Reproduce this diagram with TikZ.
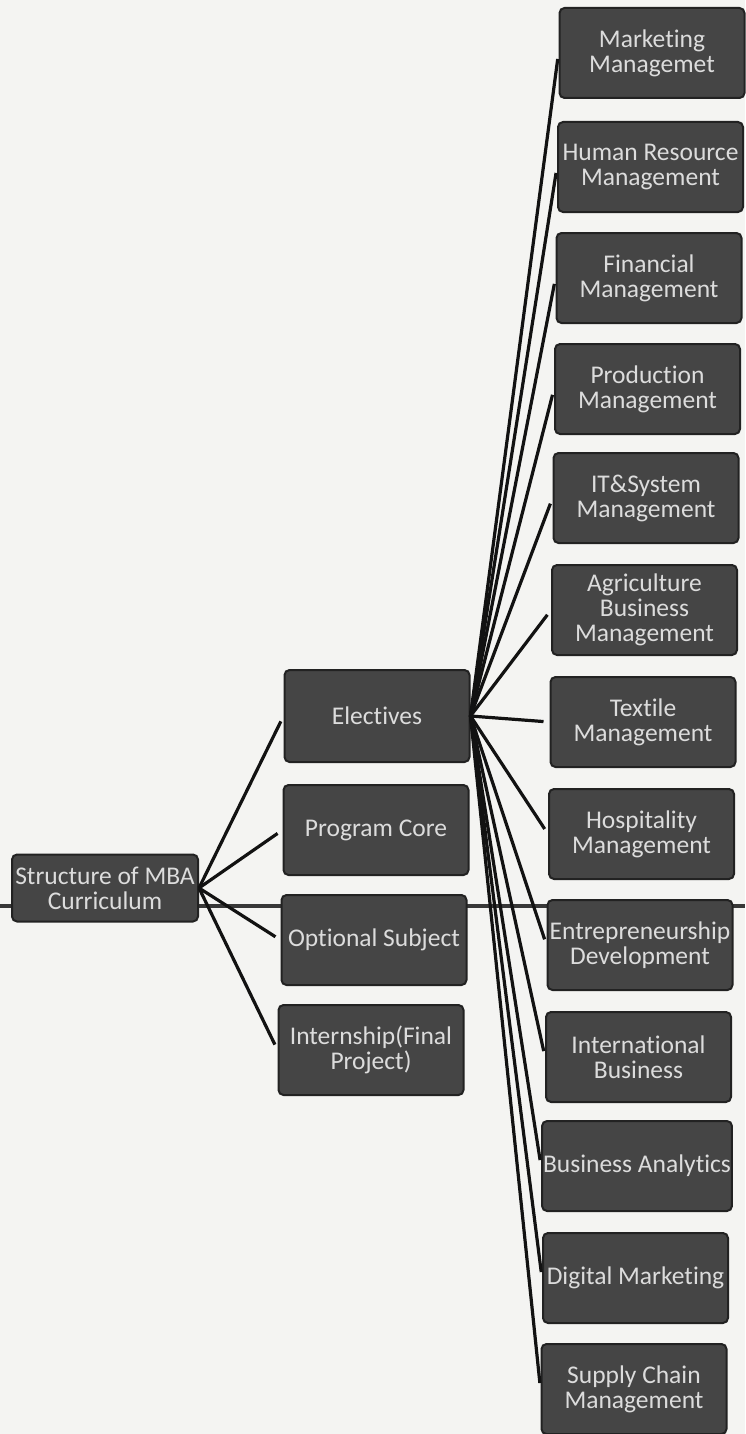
\documentclass[tikz,border=0pt]{standalone}
\usepackage{fontspec}
\setmainfont{Carlito}[Ligatures=NoCommon]
\definecolor{bg}{HTML}{F4F4F2}
\definecolor{boxfill}{HTML}{454545}
\definecolor{boxedge}{HTML}{222222}
\definecolor{boxtext}{HTML}{DCDCDC}
\definecolor{linecol}{HTML}{121212}
\begin{document}
\begin{tikzpicture}[x=1pt,y=-1pt,
  box/.style={draw=boxedge, line width=2pt, fill=boxfill, rounded corners=5pt,
    minimum width=185pt, minimum height=90pt, inner sep=1pt, align=center,
    text=boxtext, font=\fontsize{25.5}{25}\selectfont},
  link/.style={draw=linecol, line width=3.2pt, shorten >=6pt},
  scanline/.style={draw=black!78, line width=3.4pt}]
\fill[bg] (0,0) rectangle (745,1434);
\useasboundingbox (0,0) rectangle (745,1434);
% scan artifact line
\coordinate (sl) at (0,906);
\coordinate (sr) at (745,906);
\draw[scanline] (sl) -- (sr);
% nodes
\node[box, minimum width=186pt, minimum height=67pt] (root) at (105,888) {Structure of MBA\\Curriculum};
\node[box, minimum height=92pt] (el) at (377,716) {Electives};
\node[box] (pc) at (376,830) {Program Core};
\node[box] (os) at (374,940) {Optional Subject};
\node[box] (ip) at (371,1050) {Internship(Final\\Project)};
\node[box] (r1) at (652,53) {Marketing\\Managemet};
\node[box] (r2) at (650.5,167) {Human Resource\\Management};
\node[box] (r3) at (649,278) {Financial\\Management};
\node[box] (r4) at (647.5,389) {Production\\Management};
\node[box] (r5) at (646,498) {IT\&System\\Management};
\node[box] (r6) at (644.5,610) {Agriculture\\Business\\Management};
\node[box] (r7) at (643,722) {Textile\\Management};
\node[box] (r8) at (641.5,834) {Hospitality\\Management};
\node[box] (r9) at (640,945) {Entrepreneurship\\Development};
\node[box] (r10) at (638.5,1057) {International\\Business};
\node[box] (r11) at (637,1166) {Business Analytics};
\node[box] (r12) at (635.5,1278) {Digital Marketing};
\node[box] (r13) at (634,1389) {Supply Chain\\Management};
% connectors
\foreach \m in {el,pc,os,ip}{
  \draw[link] (root.east) -- (\m.west);
}
\foreach \r in {r1,r2,r3,r4,r5,r6,r7,r8,r9,r10,r11,r12,r13}{
  \draw[link] (el.east) -- (\r.west);
}
\end{tikzpicture}
\end{document}
